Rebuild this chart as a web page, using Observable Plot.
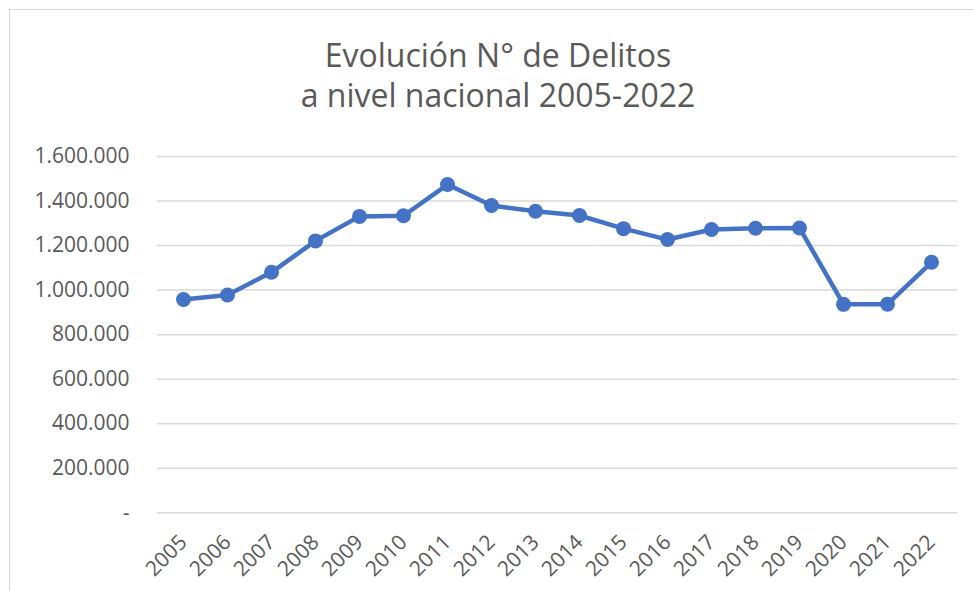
<!DOCTYPE html>
<html>
<head>
<meta charset="utf-8">
<script src="https://cdn.jsdelivr.net/npm/d3@7"></script>
<script src="https://cdn.jsdelivr.net/npm/@observablehq/plot@0.6"></script>
<style>
  html, body { margin: 0; padding: 0; background: #fff; overflow: hidden; }
  #wrap { position: relative; width: 974px; height: 591px; overflow: hidden; }
  #frame { position: absolute; left: 9px; top: 9px; width: 1200px; height: 800px; border: 1.5px solid #d9d9d9; box-sizing: border-box; }
  #title { position: relative; box-sizing: border-box; height: 130px; padding-top: 35px; padding-left: 22px;
           text-align: center; font-family: "Open Sans", sans-serif; font-size: 32px; line-height: 40px; color: #595959; }
  #chart { position: relative; }
</style>
</head>
<body>
<div id="wrap">
  <div id="frame"></div>
  <div id="title">Evolución N° de Delitos<br>a nivel nacional 2005-2022</div>
  <div id="chart"></div>
</div>
<script>
const years = ["2005","2006","2007","2008","2009","2010","2011","2012","2013","2014","2015","2016","2017","2018","2019","2020","2021","2022"];
const delitos = [958000, 978000, 1080000, 1221000, 1331000, 1334000, 1474000, 1380000, 1354000, 1335000, 1276000, 1227000, 1272000, 1278000, 1279000, 936000, 937000, 1125000];
const yTicks = [0, 200000, 400000, 600000, 800000, 1000000, 1200000, 1400000, 1600000];
const yTickLabels = ["-", "200.000", "400.000", "600.000", "800.000", "1.000.000", "1.200.000", "1.400.000", "1.600.000"];

const data = years.map((y, i) => ({year: y, value: delitos[i]}));
const labelOf = new Map(yTicks.map((t, i) => [t, yTickLabels[i]]));

const plot = Plot.plot({
  width: 974,
  height: 461,
  marginTop: 26,
  marginBottom: 78.7,
  marginLeft: 157,
  marginRight: 17,
  style: {fontFamily: "Open Sans, sans-serif", fontSize: "21px", color: "#595959", background: "transparent"},
  x: {type: "point", domain: years, padding: 0.5},
  y: {domain: [0, 1600000]},
  marks: [
    Plot.ruleY(yTicks, {stroke: "#d9d9d9", strokeWidth: 1.5}),
    Plot.axisY({ticks: yTicks, tickFormat: d => labelOf.get(d), tickSize: 0, tickPadding: 28, label: null, fontSize: 21}),
    Plot.axisX({tickRotate: -45, tickSize: 0, tickPadding: 26, label: null, fontSize: 21}),
    Plot.line(data, {x: "year", y: "value", stroke: "#4472C4", strokeWidth: 4.5, strokeLinejoin: "round"}),
    Plot.dot(data, {x: "year", y: "value", r: 7.5, fill: "#4472C4", stroke: "none"})
  ]
});
document.getElementById("chart").appendChild(plot);
</script>
</body>
</html>
